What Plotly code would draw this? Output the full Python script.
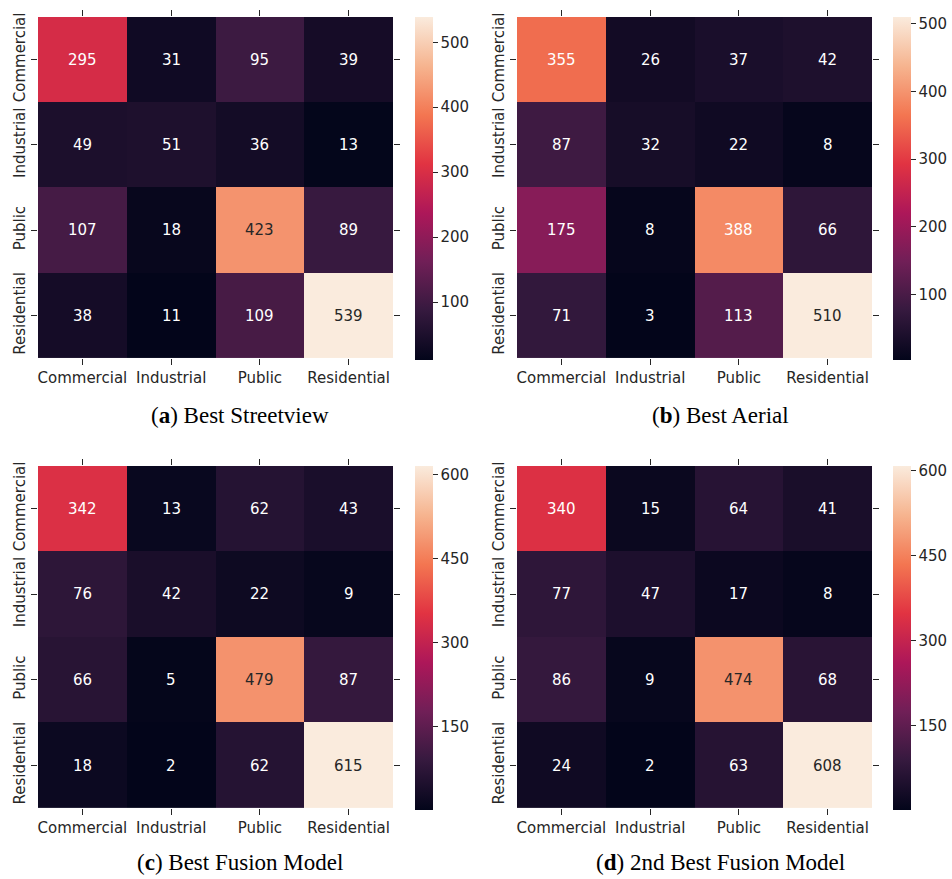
import plotly.graph_objects as go

# ---------------- data ----------------
categories = ["Commercial", "Industrial", "Public", "Residential"]

cm_streetview = [[295, 31, 95, 39],
                 [49, 51, 36, 13],
                 [107, 18, 423, 89],
                 [38, 11, 109, 539]]
cm_aerial = [[355, 26, 37, 42],
             [87, 32, 22, 8],
             [175, 8, 388, 66],
             [71, 3, 113, 510]]
cm_fusion_best = [[342, 13, 62, 43],
                  [76, 42, 22, 9],
                  [66, 5, 479, 87],
                  [18, 2, 62, 615]]
cm_fusion_second = [[340, 15, 64, 41],
                    [77, 47, 17, 8],
                    [86, 9, 474, 68],
                    [24, 2, 63, 608]]

panel_letters = ["a", "b", "c", "d"]
panel_titles = ["Best Streetview", "Best Aerial", "Best Fusion Model", "2nd Best Fusion Model"]
cbar_ticks_top = [100, 200, 300, 400, 500]
cbar_ticks_bottom = [150, 300, 450, 600]

# ---------------- style ----------------
DX, DY = 0, 3
W, H = 952, 876
rocket_hex = ["#03051a", "#35193e", "#701f57", "#ad1759", "#e13342", "#f37651", "#f6b48f", "#faebdd"]
rocket = [[i / (len(rocket_hex) - 1), c] for i, c in enumerate(rocket_hex)]
INK = "#262626"
SANS = "DejaVu Sans"
SERIF = "Liberation Serif"


def px(x):
    return (x - DX) / W


def py(y):
    return 1 - (y - DY) / H


def hex2rgb(h):
    h = h.lstrip("#")
    return tuple(int(h[i:i + 2], 16) for i in (0, 2, 4))


def color_at(t):
    t = min(max(t, 0), 1)
    for (p0, c0), (p1, c1) in zip(rocket[:-1], rocket[1:]):
        if p0 <= t <= p1:
            f = (t - p0) / (p1 - p0) if p1 > p0 else 0
            a, b = hex2rgb(c0), hex2rgb(c1)
            return tuple(a[k] + f * (b[k] - a[k]) for k in range(3))
    return hex2rgb(rocket_hex[-1])


def luminance(rgb):
    out = []
    for v in rgb:
        v = v / 255
        out.append(v / 12.92 if v <= 0.03928 else ((v + 0.055) / 1.055) ** 2.4)
    return 0.2126 * out[0] + 0.7152 * out[1] + 0.0722 * out[2]


# pixel boxes in the window: heatmap (x0, x1), (y0, y1), colorbar left x, caption centre
panels = [
    dict(hx=(38, 393), hy=(16, 359), cbx=415, capx=240, capy=416),
    dict(hx=(517, 872), hy=(16, 359), cbx=893, capx=720, capy=416),
    dict(hx=(38, 393), hy=(467, 811), cbx=415, capx=240, capy=865),
    dict(hx=(517, 872), hy=(467, 811), cbx=893, capx=720, capy=865),
]
matrices = [cm_streetview, cm_aerial, cm_fusion_best, cm_fusion_second]
ticksets = [cbar_ticks_top, cbar_ticks_top, cbar_ticks_bottom, cbar_ticks_bottom]

fig = go.Figure()
annotations = []
layout = dict(width=W, height=H, margin=dict(l=0, r=0, t=0, b=0),
              paper_bgcolor="white", plot_bgcolor="white", showlegend=False)

for i, (p, z, tv) in enumerate(zip(panels, matrices, ticksets)):
    n = i + 1
    xa = "x" if n == 1 else f"x{n}"
    ya = "y" if n == 1 else f"y{n}"
    ca = "coloraxis" if n == 1 else f"coloraxis{n}"
    zmin = min(min(r) for r in z)
    zmax = max(max(r) for r in z)
    fig.add_trace(go.Heatmap(z=z, x=categories, y=categories, xaxis=xa, yaxis=ya,
                             coloraxis=ca, hoverinfo="skip"))
    axis_common = dict(ticks="outside", ticklen=6, tickwidth=1, tickcolor=INK,
                       mirror="ticks", showline=False, showgrid=False, zeroline=False,
                       tickfont=dict(family=SANS, size=15, color=INK), fixedrange=True)
    layout["xaxis" if n == 1 else f"xaxis{n}"] = dict(
        domain=[px(p["hx"][0]), px(p["hx"][1])], anchor=ya, type="category",
        tickangle=0, **axis_common)
    layout["yaxis" if n == 1 else f"yaxis{n}"] = dict(
        domain=[py(p["hy"][1]), py(p["hy"][0])], anchor=xa, type="category",
        autorange="reversed", tickangle=-90, **axis_common)
    layout[ca] = dict(
        colorscale=rocket, cmin=zmin, cmax=zmax,
        colorbar=dict(x=px(p["cbx"]), xanchor="left", xpad=0, ypad=0,
                      y=py(p["hy"][0]), yanchor="top",
                      len=p["hy"][1] - p["hy"][0], lenmode="pixels",
                      thickness=18, thicknessmode="pixels", outlinewidth=0,
                      tickvals=tv, ticks="outside", ticklen=5, tickcolor=INK,
                      tickfont=dict(family=SANS, size=15, color=INK)))
    for r, row in enumerate(z):
        for c, v in enumerate(row):
            lum = luminance(color_at((v - zmin) / (zmax - zmin)))
            annotations.append(dict(
                x=categories[c], y=categories[r], xref=xa, yref=ya, text=str(v),
                showarrow=False,
                font=dict(family=SANS, size=15, color=INK if lum > 0.40 else "white")))
    annotations.append(dict(
        x=px(p["capx"]), y=py(p["capy"]), xref="paper", yref="paper",
        xanchor="center", yanchor="middle", showarrow=False,
        text=f"(<b>{panel_letters[i]}</b>) {panel_titles[i]}",
        font=dict(family=SERIF, size=23, color="black")))

layout["annotations"] = annotations
fig.update_layout(**layout)
fig.write_html(
    "out.html",
    config={"displayModeBar": False},
    post_script="document.body.style.margin='0';document.body.style.overflow='hidden';",
)
